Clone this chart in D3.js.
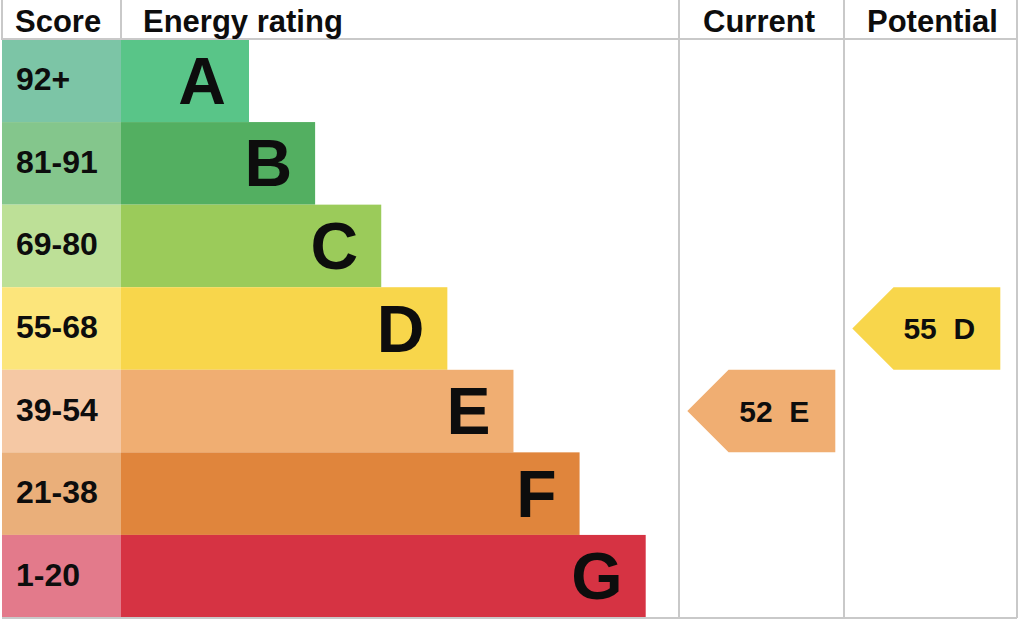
<!DOCTYPE HTML>
<html>
    <head>
        <meta charset='utf-8'>
        <title>Energy rating</title>
        <script src='https://d3js.org/d3.v7.min.js'></script>
        <style>
            html, body {
                margin: 0;
                padding: 0;
                background: #fff;
            }

            svg text {
                font-family: 'Liberation Sans', Arial, Helvetica, sans-serif;
                font-weight: bold;
                fill: #0d0d0d;
                white-space: pre;
            }

            .grid {
                stroke: #c9c9c9;
                stroke-width: 1.5px;
                shape-rendering: crispEdges;
            }
        </style>
    </head>
    <body>
        <svg width='1024' height='621' id='epc'></svg>
        <script>
            // rating bands, top to bottom
            const bands = ['A', 'B', 'C', 'D', 'E', 'F', 'G'];
            const scoreRanges = ['92+', '81-91', '69-80', '55-68', '39-54', '21-38', '1-20'];
            const bandMin = [92, 81, 69, 55, 39, 21, 1];
            const headers = ['Score', 'Energy rating', 'Current', 'Potential'];

            const currentScore = 52;
            const potentialScore = 55;

            const barColors = ['#59c588', '#53af61', '#9bcb5a', '#f8d64b', '#f0ae72', '#e0853c', '#d63343'];
            const scoreColors = ['#7cc5a6', '#84c68c', '#bde097', '#fce57b', '#f5c8a4', '#eaaf7a', '#e37a8b'];

            function bandFor(score) {
                let i = bandMin.findIndex(function(m) { return score >= m; });
                return bands[i];
            }

            function renderChart(svg_id) {
                var svg = d3.select(`svg#${svg_id}`);

                // column edges
                var col = {left: 2, score: 121, current: 679, potential: 844, right: 1017},
                    headerH = 39.5,
                    bottom = 617.5;

                var y = d3.scaleBand()
                    .domain(bands)
                    .range([headerH, bottom]);

                // bar end depends on band order
                var x = d3.scaleLinear()
                    .domain([0, bands.length - 1])
                    .range([249, 645.7]);

                var rows = svg.append('g').selectAll('g')
                    .data(bands)
                    .enter().append('g');

                rows.append('rect')
                    .attr('x', col.left)
                    .attr('y', function(d) { return y(d); })
                    .attr('width', col.score - col.left)
                    .attr('height', y.bandwidth())
                    .attr('fill', function(d, i) { return scoreColors[i]; });

                rows.append('rect')
                    .attr('x', col.score)
                    .attr('y', function(d) { return y(d); })
                    .attr('width', function(d, i) { return x(i) - col.score; })
                    .attr('height', y.bandwidth())
                    .attr('fill', function(d, i) { return barColors[i]; });

                rows.append('text')
                    .attr('x', 16)
                    .attr('y', function(d) { return y(d) + y.bandwidth() / 2 + 9.5; })
                    .style('font-size', '32px')
                    .text(function(d, i) { return scoreRanges[i]; });

                rows.append('text')
                    .attr('x', function(d, i) { return x(i) - 23; })
                    .attr('y', function(d) { return y(d) + y.bandwidth() / 2 + 23; })
                    .attr('text-anchor', 'end')
                    .style('font-size', '66px')
                    .text(function(d) { return d; });

                // grid lines
                var grid = svg.append('g');
                grid.append('line').attr('class', 'grid')
                    .attr('x1', col.left).attr('x2', col.right)
                    .attr('y1', headerH - 0.5).attr('y2', headerH - 0.5);
                grid.append('line').attr('class', 'grid')
                    .attr('x1', col.left).attr('x2', col.right)
                    .attr('y1', bottom + 0.5).attr('y2', bottom + 0.5);
                grid.append('line').attr('class', 'grid')
                    .attr('x1', col.left).attr('x2', col.left)
                    .attr('y1', 0).attr('y2', headerH);
                grid.append('line').attr('class', 'grid')
                    .attr('x1', col.score).attr('x2', col.score)
                    .attr('y1', 0).attr('y2', headerH);
                [col.current, col.potential, col.right].forEach(function(cx) {
                    grid.append('line').attr('class', 'grid')
                        .attr('x1', cx).attr('x2', cx)
                        .attr('y1', 0).attr('y2', bottom + 0.5);
                });

                // headers
                var headerX = [15, 143, 703, 867];
                svg.append('g').selectAll('text')
                    .data(headers)
                    .enter().append('text')
                    .attr('x', function(d, i) { return headerX[i]; })
                    .attr('y', 32)
                    .style('font-size', '31px')
                    .text(function(d) { return d; });

                // current / potential arrows
                var arrows = [
                    {score: currentScore, x0: col.current},
                    {score: potentialScore, x0: col.potential}
                ];

                arrows.forEach(function(a) {
                    var band = bandFor(a.score),
                        i = bands.indexOf(band),
                        top = y(band),
                        h = y.bandwidth(),
                        tip = a.x0 + 8.3,
                        w = 148;

                    var pts = [
                        [tip, top + h / 2],
                        [tip + h / 2, top],
                        [tip + w, top],
                        [tip + w, top + h],
                        [tip + h / 2, top + h]
                    ];

                    svg.append('path')
                        .attr('d', d3.line()(pts) + 'Z')
                        .attr('fill', barColors[i]);

                    svg.append('text')
                        .attr('x', tip + 87)
                        .attr('y', top + h / 2 + 10.5)
                        .attr('text-anchor', 'middle')
                        .style('font-size', '30px')
                        .text(`${a.score}  ${band}`);
                });
            }

            renderChart('epc');
        </script>
    </body>
</html>
